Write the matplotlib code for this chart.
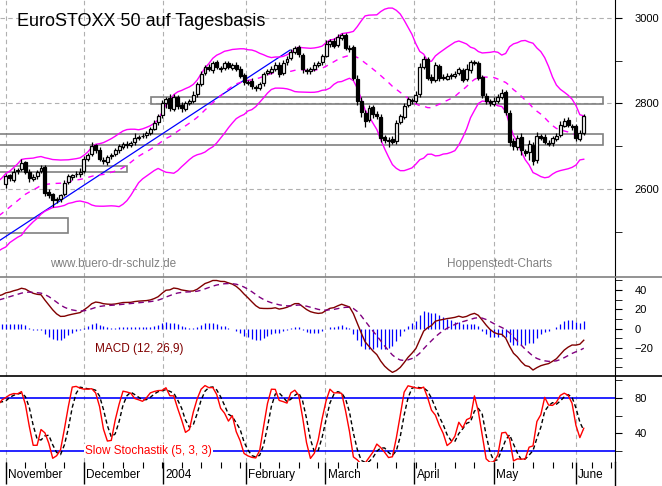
import numpy as np
import pandas as pd
import matplotlib
matplotlib.use("Agg")
import matplotlib.pyplot as plt
from matplotlib.lines import Line2D

plt.rcParams['font.family'] = ['Liberation Sans', 'DejaVu Sans']

# ---- data (daily EuroSTOXX 50, Nov 2003 - early June 2004) ----
pre_close = [2440,2420,2400,2390,2405,2420,2410,2430,2450,2440,2460,2475,2470,2460,2480,2490,2470,2455,2465,2475,
             2480,2470,2490,2500,2510,2495,2520,2530,2540,2535,2550,2560,2555,2570,2575,2590,2580,2600,2595,2610]
close = [2630,2625,2640,2645,2660,2640,2625,2628,2640,2650,
         2590,2585,2575,2575,2585,2615,2630,2632,2635,2640,
         2670,2680,2700,2690,2670,2665,2675,2680,2690,2700,
         2705,2703,2708,2720,2722,2725,2730,2740,2755,2770,
         2800,2810,2790,2815,2795,2790,2800,2805,2820,2845,
         2870,2885,2880,2895,2885,2880,2895,2885,2890,2880,
         2865,2850,2850,2840,2835,2845,2870,2875,2880,2890,
         2870,2895,2905,2920,2930,2915,2880,2875,2880,2890,
         2895,2910,2940,2945,2935,2955,2960,2930,2930,2860,
         2805,2780,2760,2790,2775,2770,2720,2715,2715,2710,
         2755,2770,2795,2810,2805,2820,2885,2905,2860,2855,
         2890,2860,2860,2865,2865,2870,2880,2855,2880,2897,
         2895,2860,2820,2805,2800,2805,2815,2825,2780,2710,
         2700,2720,2690,2685,2705,2665,2725,2720,2710,2705,
         2720,2725,2750,2760,2750,2745,2720,2730,2770]
open_ = [2612,2632,2622,2642,2646,2662,2640,2624,2630,2641,
         2652,2592,2587,2574,2576,2588,2616,2628,2634,2636,
         2642,2671,2682,2702,2692,2668,2664,2676,2682,2691,
         2699,2706,2702,2709,2719,2723,2726,2731,2741,2756,
         2772,2802,2812,2788,2816,2796,2788,2801,2806,2822,
         2846,2872,2886,2878,2896,2884,2882,2894,2884,2891,
         2881,2866,2848,2852,2838,2836,2847,2871,2874,2881,
         2891,2872,2896,2906,2921,2931,2913,2878,2876,2881,
         2891,2896,2912,2938,2946,2936,2954,2961,2928,2932,
         2858,2806,2778,2762,2792,2776,2768,2722,2713,2716,
         2712,2757,2769,2796,2808,2806,2822,2886,2903,2862,
         2856,2888,2862,2858,2866,2864,2872,2878,2857,2878,
         2896,2894,2862,2818,2806,2798,2806,2816,2826,2778,
         2712,2698,2722,2688,2686,2703,2667,2723,2722,2708,
         2707,2718,2727,2748,2762,2748,2747,2718,2732]
up_wick = [6,4,8,5,10,3,6,7,4,5,
           5,8,4,6,3,7,5,4,6,8,
           6,5,9,4,6,7,5,4,6,5,
           4,6,5,12,4,6,5,4,7,6,
           8,5,10,6,4,7,5,6,8,5,
           6,4,7,5,6,4,5,6,4,5,
           6,5,4,7,5,6,4,5,7,6,
           5,6,7,8,5,6,4,5,6,7,
           5,6,8,5,6,7,5,4,6,5,
           8,10,6,7,5,6,8,5,6,7,
           6,5,7,6,5,8,10,6,5,7,
           6,5,8,6,5,7,5,6,12,5,
           5,6,4,7,5,10,6,8,5,6,
           7,6,8,5,9,6,8,5,6,7,
           5,6,8,7,6,5,6,9,6]
low_wick = [10,6,5,7,4,6,8,5,6,4,
            7,6,18,8,6,5,4,6,5,7,
            5,6,4,7,5,6,8,5,4,6,
            5,7,4,6,5,4,6,5,4,7,
            6,12,8,5,7,10,6,5,4,6,
            5,6,4,7,5,6,4,5,6,4,
            6,8,5,6,7,5,6,4,5,6,
            7,5,6,4,5,6,8,5,6,4,
            5,6,4,5,6,4,5,6,7,5,
            8,12,15,6,8,7,10,8,15,6,
            7,6,5,4,6,5,7,5,6,8,
            5,7,6,4,8,5,6,4,5,6,
            5,6,8,7,6,5,6,5,8,10,
            8,6,10,7,18,8,6,5,6,5,
            7,6,5,4,6,7,8,5,6]
pre_up_wick = [8]*40
pre_low_wick = [8]*40

month_labels = ["November", "December", "2004", "February", "March", "April", "May", "June"]
month_pos = [0, 20, 40.3, 61.5, 81.8, 104.6, 125, 146]

# support zones (low, high, x0, x1 in day index)
zone_low = [2497, 2640, 2703, 2799]
zone_high = [2532, 2654, 2729, 2815]
zone_x0 = [-2, -2, -2, 37.2]
zone_x1 = [16, 31, 153, 153]
# trend line
trend_x = [-1.5, 72.8]
trend_y = [2480, 2925]

# ---- derived series ----
c_all = np.array(pre_close + close, float)
n_pre = len(pre_close)
idx = np.arange(len(c_all)) - n_pre
o = np.array(open_, float)
c = np.array(close, float)
h_all = np.r_[np.array(pre_close) + pre_up_wick, np.maximum(o, c) + up_wick]
l_all = np.r_[np.array(pre_close) - pre_low_wick, np.minimum(o, c) - low_wick]
s = pd.Series(c_all)
mid = s.rolling(20).mean()
sd = s.rolling(20).std(ddof=0)
upper, lower = mid + 2 * sd, mid - 2 * sd
ema12 = s.ewm(span=12, adjust=False).mean()
ema26 = s.ewm(span=26, adjust=False).mean()
macd = ema12 - ema26
sig = macd.ewm(span=9, adjust=False).mean()
hist = macd - sig
hh = pd.Series(h_all).rolling(5).max()
ll = pd.Series(l_all).rolling(5).min()
fastk = 100 * (s - ll) / (hh - ll)
slowk = fastk.rolling(3).mean()
slowd = slowk.rolling(3).mean()

W, H = 662, 486
fig = plt.figure(figsize=(W / 100, H / 100), dpi=100)
xr = 615 / W
x0, x1 = -1.5, 156
ax1 = fig.add_axes([0, (H - 277) / H, xr, 277 / H])
ax2 = fig.add_axes([0, (H - 376) / H, xr, 99 / H])
ax3 = fig.add_axes([0, (H - 462) / H, xr, 86 / H])

for ax in (ax1, ax2, ax3):
    ax.set_xlim(x0, x1)
    for sp in ('top', 'left', 'bottom'):
        ax.spines[sp].set_visible(False)
    ax.spines['right'].set_color('black')
    ax.yaxis.tick_right()
    ax.tick_params(axis='y', which='both', direction='out', length=5, labelsize=8, pad=9)
    ax.tick_params(axis='y', which='minor', length=5)
    ax.set_xticks(month_pos)
    ax.tick_params(axis='x', which='both', length=0, labelbottom=False)
    ax.xaxis.grid(True, color='#b0b0b0', linestyle=(0, (4, 3)), linewidth=0.8)

# main panel
ax1.set_ylim(2394, 3042)
ax1.set_yticks([2600, 2800, 3000])
ax1.set_yticks([2500, 2700, 2900], minor=True)
ax1.yaxis.grid(True, which='major', color='#b0b0b0', linestyle=(0, (4, 3)), linewidth=0.8)
for zl, zh, a, b in zip(zone_low, zone_high, zone_x0, zone_x1):
    ax1.add_patch(plt.Rectangle((a, zl), b - a, zh - zl, fill=False, edgecolor='#808080', lw=1.2, zorder=2))
ax1.plot(trend_x, trend_y, color='#0000ff', lw=0.9, zorder=2)
ax1.plot(idx, upper, color='#ff00ff', lw=1, zorder=3)
ax1.plot(idx, lower, color='#ff00ff', lw=1, zorder=3)
ax1.plot(idx, mid, color='#ff00ff', lw=1, ls=(0, (4, 4)), zorder=3)
for i in range(len(c)):
    hi = max(o[i], c[i]) + up_wick[i]
    lo = min(o[i], c[i]) - low_wick[i]
    ax1.vlines(i, lo, hi, color='black', lw=0.9, zorder=4)
    b0, b1 = min(o[i], c[i]), max(o[i], c[i])
    fc = 'white' if c[i] >= o[i] else 'black'
    ax1.add_patch(plt.Rectangle((i - 0.38, b0), 0.76, max(b1 - b0, 1.5), facecolor=fc,
                                edgecolor='black', lw=0.9, zorder=5))

# MACD panel
ax2.set_ylim(-49, 53.4)
ax2.set_yticks([-20, 0, 20, 40])
ax2.set_yticks([-40, -30, -10, 10, 30, 50], minor=True)
ax2.vlines(idx, 0, hist, color='#0000ff', lw=0.9)
ax2.plot(idx, macd, color='#800000', lw=1)
ax2.plot(idx, sig, color='#800080', lw=1, ls=(0, (4, 3)))

# Stochastic panel
ax3.set_ylim(7.5, 104.9)
ax3.set_yticks([40, 80])
ax3.set_yticks([20, 60, 100], minor=True)
ax3.axhline(80, color='#0000ff', lw=1.2)
ax3.axhline(20, color='#0000ff', lw=1.2)
ax3.plot(idx, slowd, color='black', lw=1, ls=(0, (3, 2)))
ax3.plot(idx, slowk, color='#ff0000', lw=1)

# separators
fig.add_artist(Line2D([0, 1], [(H - 277) / H] * 2, color='#808080', lw=1.2))
fig.add_artist(Line2D([0, 1], [(H - 376) / H] * 2, color='black', lw=1.2))

# bottom axis: week ticks and month labels
axb = fig.add_axes([0, 0, xr, (H - 462) / H])
axb.set_xlim(x0, x1)
axb.set_ylim(0, 1)
axb.axis('off')
for p in np.arange(0, 157, 5):
    axb.vlines(p, 1 - 6 / 24, 1, color='black', lw=0.8)
for p, lab in zip(month_pos, month_labels):
    axb.vlines(p, 1 - 22 / 24, 1, color='black', lw=1)
    axb.text(p + 0.6, 0.45, lab, fontsize=8.5, va='center', ha='left')
fig.add_artist(Line2D([xr, xr], [0, (H - 462) / H], color='black', lw=1))

def ftext(x, y, t, **kw):
    fig.text(x / W, 1 - y / H, t, **kw)

ftext(17, 22, "EuroSTOXX 50 auf Tagesbasis", fontsize=13, va='center', ha='left')
ftext(50, 264, "www.buero-dr-schulz.de", fontsize=8.5, color='#808080', va='center')
ftext(447, 264, "Hoppenstedt-Charts", fontsize=8.5, color='#808080', va='center')
ftext(95, 349, "MACD (12, 26,9)", fontsize=8.5, color='#800000', va='center')
ftext(85, 451, "Slow Stochastik (5, 3, 3)", fontsize=8.5, color='#ff0000', va='center',
      bbox=dict(facecolor='white', edgecolor='none', pad=1))

fig.savefig("out.png", dpi=100)
